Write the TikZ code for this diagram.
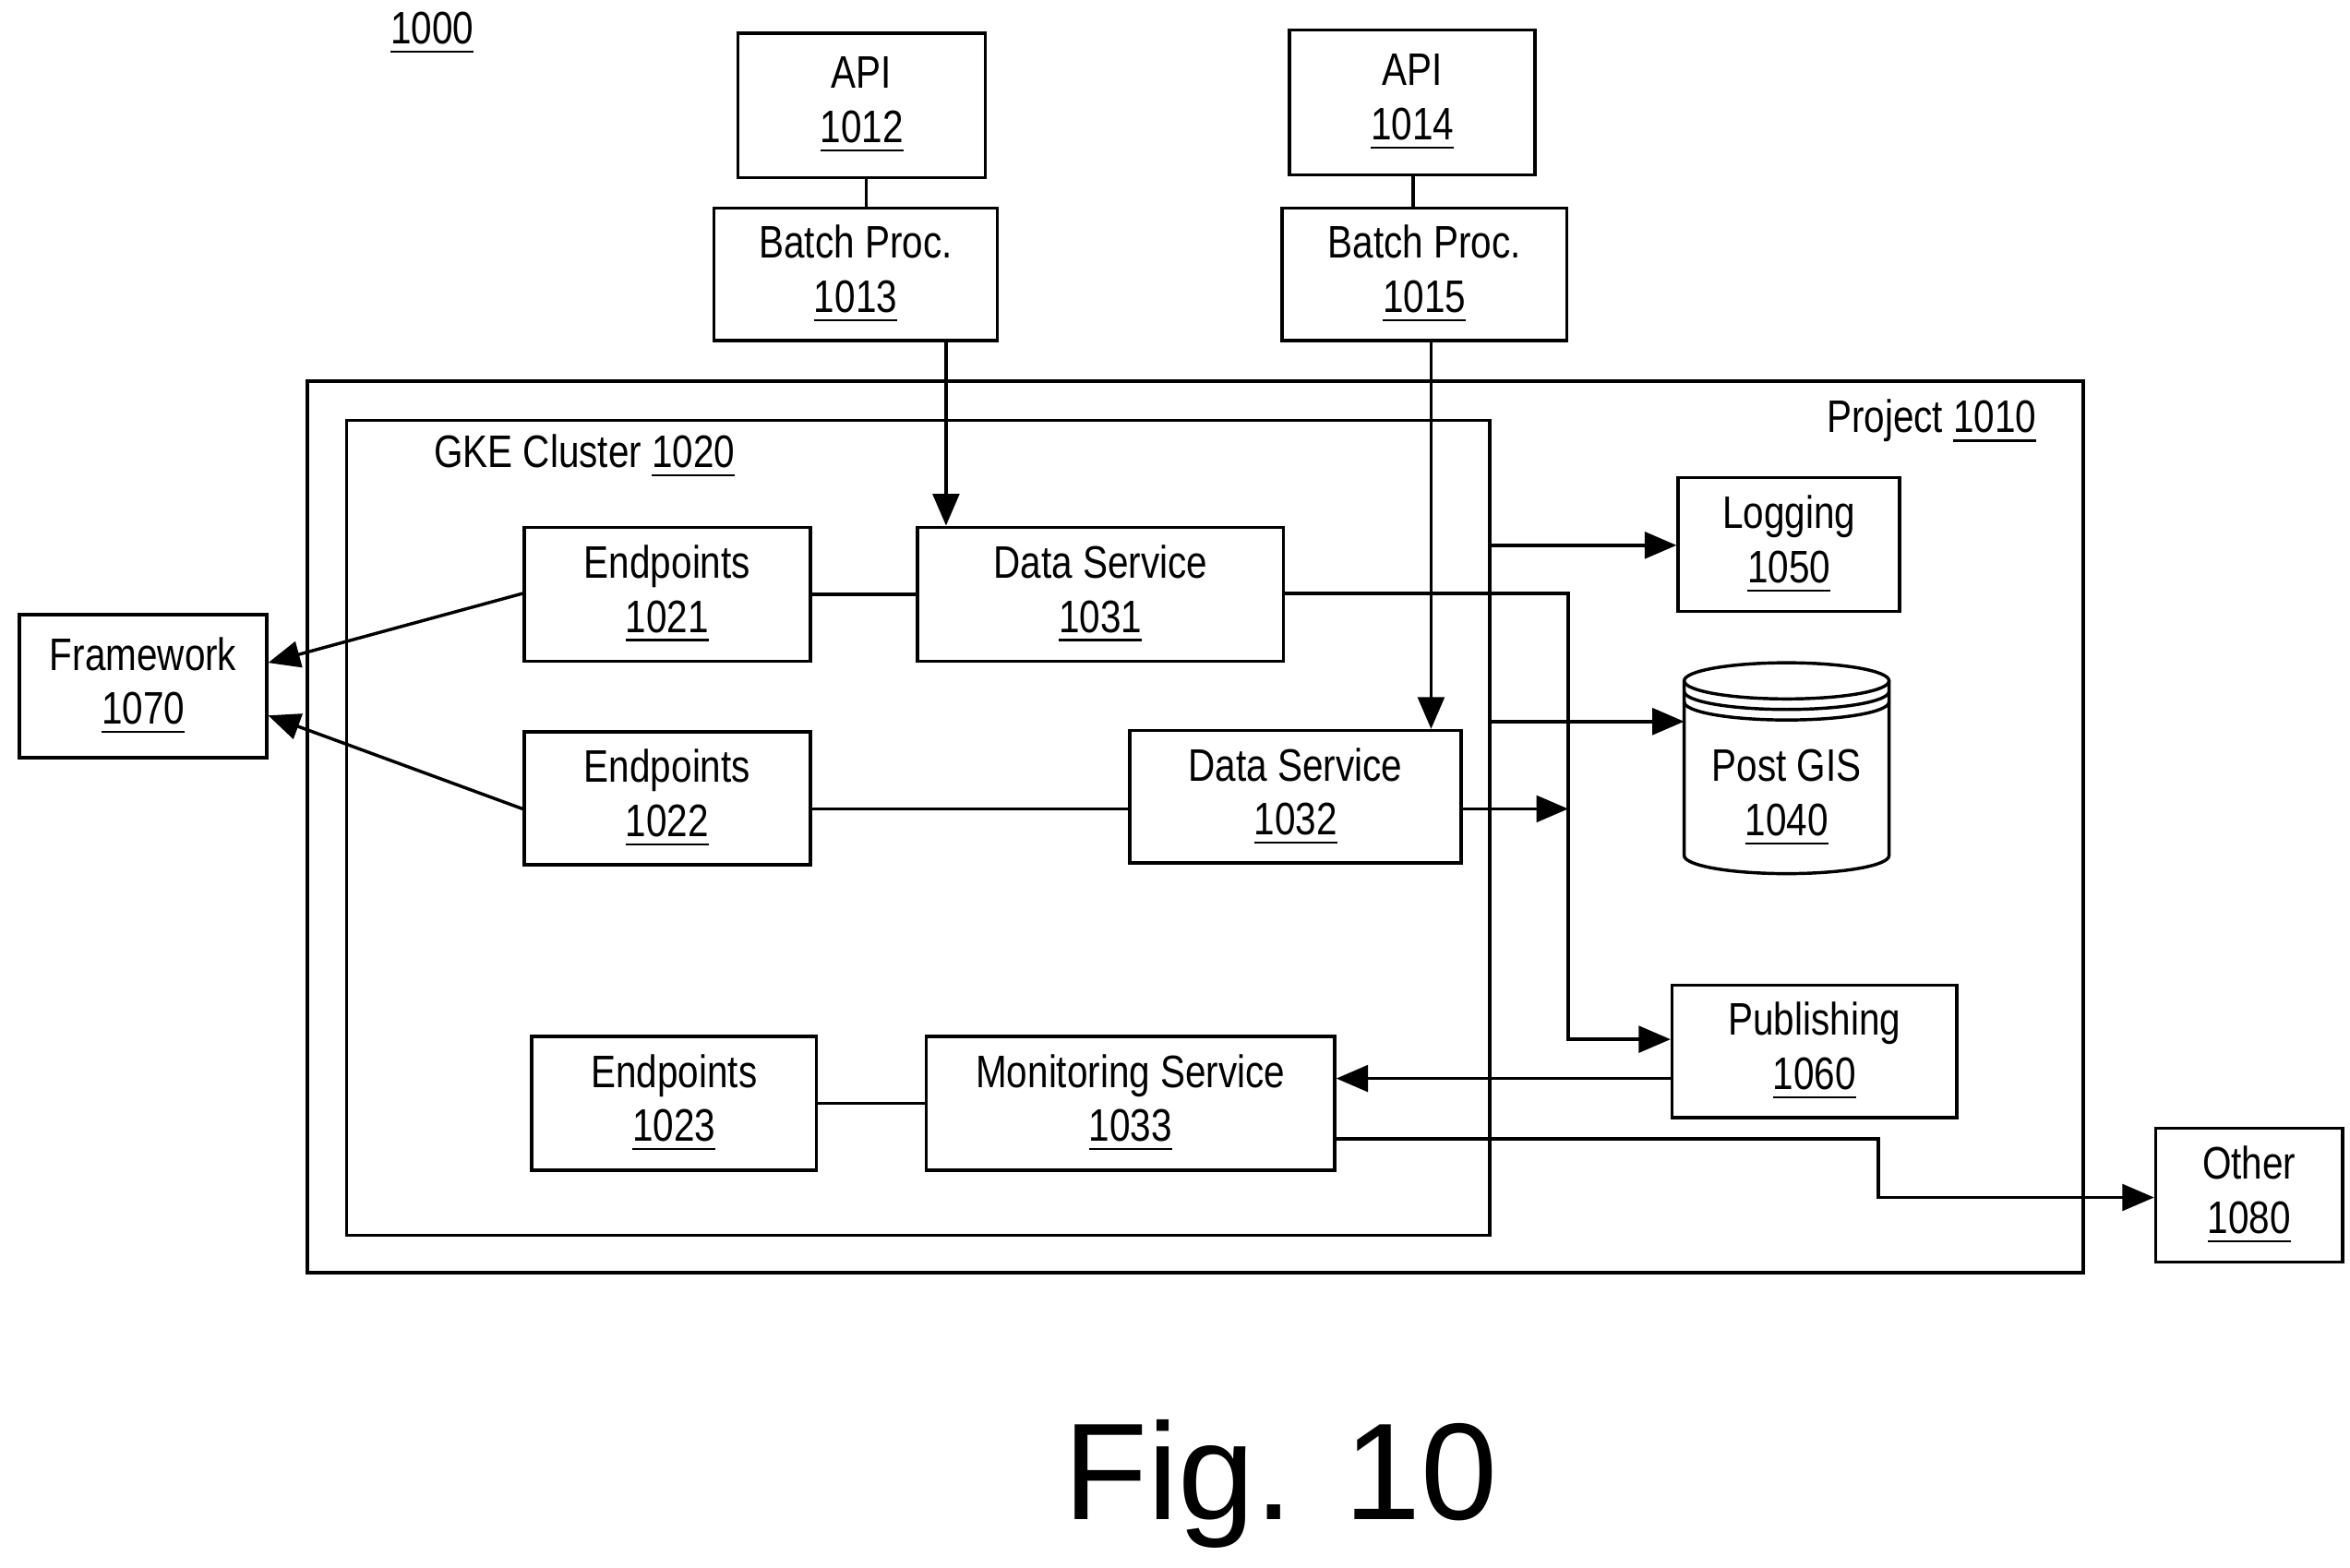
\documentclass[tikz,border=0pt]{standalone}
\usepackage{fontspec}
\setmainfont{Liberation Sans}[FakeStretch=0.82]
\newfontfamily\figfont{Liberation Sans}
\usetikzlibrary{arrows.meta}
\begin{document}
\begin{tikzpicture}[x=0.01cm,y=-0.01cm,line width=0.6pt,
  box/.style={draw,rectangle,inner sep=0pt,align=center,font=\fontsize{8.6}{10.2}\selectfont},
  lbl/.style={inner sep=0pt,font=\fontsize{8.6}{10.2}\selectfont},
  arr/.style={-{Triangle[length=6pt,width=5pt]}}]
\useasboundingbox (0,0) rectangle (1560,1041);
\node[lbl] (n1000) at (287,22) {\underline{1000}};
\newcommand{\bx}[6]{\node[box,minimum width=#4*0.01cm-#2*0.01cm,minimum height=#5*0.01cm-#3*0.01cm] (#1) at ({(#2+#4)/2},{(#3+#5)/2}) {#6};}
\bx{api12}{490}{22}{654}{118}{API\\\underline{1012}}
\bx{bp13}{474}{138}{662}{226}{Batch Proc.\\\underline{1013}}
\bx{api14}{856}{20}{1019}{116}{API\\\underline{1014}}
\bx{bp15}{851}{138}{1040}{226}{Batch Proc.\\\underline{1015}}
\draw (204,253) rectangle (1383,845);
\node[lbl,anchor=east] (proj) at (1353,280) {Project \underline{1010}};
\draw (230,279) rectangle (989,820);
\node[lbl,anchor=west] (gke) at (287,303) {GKE Cluster \underline{1020}};
\bx{e21}{348}{350}{538}{439}{Endpoints\\\underline{1021}}
\bx{d31}{609}{350}{852}{439}{Data Service\\\underline{1031}}
\bx{e22}{348}{486}{538}{574}{Endpoints\\\underline{1022}}
\bx{d32}{750}{485}{970}{573}{Data Service\\\underline{1032}}
\bx{e23}{353}{688}{542}{777}{Endpoints\\\underline{1023}}
\bx{m33}{615}{688}{886}{777}{Monitoring Service\\\underline{1033}}
\bx{fw}{13}{408}{177}{503}{Framework\\\underline{1070}}
\bx{log}{1114}{317}{1261}{406}{Logging\\\underline{1050}}
\bx{pub}{1110}{654}{1299}{742}{Publishing\\\underline{1060}}
\bx{oth}{1431}{749}{1555}{838}{Other\\\underline{1080}}
% cylinder
\draw (1118,452) -- (1118,568) arc[start angle=180,end angle=0,x radius=68,y radius=12] -- (1254,452);
\draw (1186,452) ellipse[x radius=68,y radius=12];
\draw (1118,459) arc[start angle=180,end angle=0,x radius=68,y radius=12];
\draw (1118,466) arc[start angle=180,end angle=0,x radius=68,y radius=12];
\node[lbl,align=center] (gis) at (1186,530) {Post GIS\\\underline{1040}};
\coordinate (gisin) at (1118,479);
% connectors
\draw (api12.south -| 575,0) -- (bp13.north -| 575,0);
\draw (api14.south -| 938,0) -- (bp15.north -| 938,0);
\draw[arr] (bp13.south -| 628,0) -- (d31.north -| 628,0);
\draw[arr] (bp15.south -| 950,0) -- (d32.north -| 950,0);
\draw (e21.east) -- (d31.west);
\draw (e22.east |- 0,537) -- (d32.west |- 0,537);
\draw (e23.east) -- (m33.west);
\draw[arr] (e21.west |- 0,394) -- (fw.east |- 0,440);
\draw[arr] (e22.west |- 0,537) -- (fw.east |- 0,475);
\draw[arr] (989,362) -- (log.west |- 0,362);
\draw[arr] (989,479) -- (gisin);
\draw[arr] (d31.east |- 0,394) -- (1041,394) -- (1041,690) -- (pub.west |- 0,690);
\draw[arr] (d32.east |- 0,537) -- (1041,537);
\draw[arr] (pub.west |- 0,716) -- (m33.east |- 0,716);
\draw[arr] (m33.east |- 0,756) -- (1247,756) -- (1247,795) -- (oth.west |- 0,795);
\node[inner sep=0pt,font=\figfont\fontsize{26}{30}\selectfont] (fig) at (850,985) {Fig. 10};
\end{tikzpicture}
\end{document}
